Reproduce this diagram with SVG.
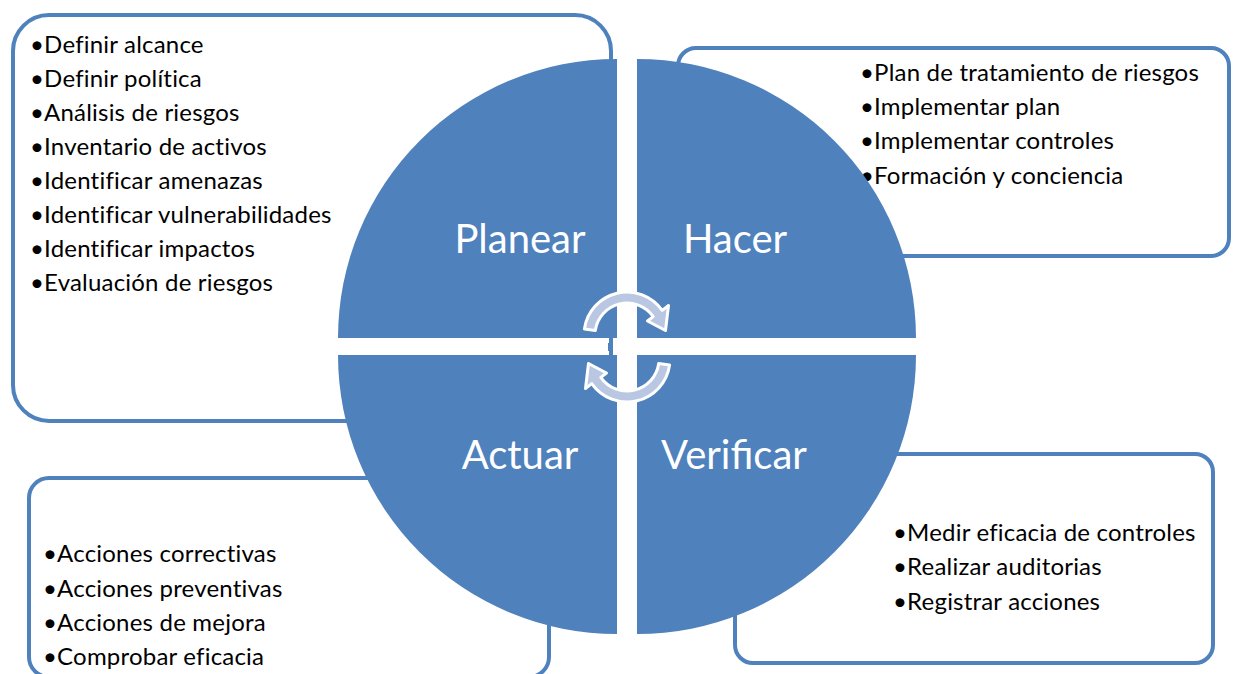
<svg xmlns="http://www.w3.org/2000/svg" width="1233" height="674" viewBox="0 0 1233 674">
<style>
.box{fill:#ffffff;stroke:#4F81BD;stroke-width:4}
.q{fill:#4F81BD}
.t{font-family:Lato,"Open Sans","Liberation Sans",sans-serif;font-size:24px;letter-spacing:0.2px;fill:#000000}
.big{font-family:Lato,"Open Sans","Liberation Sans",sans-serif;font-size:40px;fill:#ffffff;text-anchor:middle}
.arr{fill:#B9C7E2;stroke:#ffffff;stroke-width:3;stroke-linejoin:round}
</style>
<defs>
<path id="cyc" d="M-42.58,-5.99 A43,43 0 0 1 35.22,-24.66 L41.5,-29.5 L38.5,-4.5 L20.5,-14 L26.21,-18.35 A32,32 0 0 0 -31.69,-4.45 Z"/>
</defs>
<g id="box-planear">
<rect class="box" x="13" y="15" width="598" height="406" rx="36"/>
<text class="t" x="30" y="53">•Definir alcance</text>
<text class="t" x="30" y="87">•Definir política</text>
<text class="t" x="30" y="121">•Análisis de riesgos</text>
<text class="t" x="30" y="155">•Inventario de activos</text>
<text class="t" x="30" y="189">•Identificar amenazas</text>
<text class="t" x="30" y="223">•Identificar vulnerabilidades</text>
<text class="t" x="30" y="257">•Identificar impactos</text>
<text class="t" x="30" y="291">•Evaluación de riesgos</text>
</g>
<g id="box-hacer">
<rect class="box" x="678" y="48" width="551" height="208" rx="18"/>
<text class="t" x="860" y="81">•Plan de tratamiento de riesgos</text>
<text class="t" x="860" y="115">•Implementar plan</text>
<text class="t" x="860" y="149">•Implementar controles</text>
<text class="t" x="860" y="184">•Formación y conciencia</text>
</g>
<g id="box-verificar">
<rect class="box" x="735" y="454" width="478" height="209" rx="18"/>
<text class="t" x="893" y="541">•Medir eficacia de controles</text>
<text class="t" x="893" y="575">•Realizar auditorias</text>
<text class="t" x="893" y="610">•Registrar acciones</text>
</g>
<g id="box-actuar">
<rect class="box" x="29" y="478" width="520" height="199" rx="20"/>
<text class="t" x="43" y="562">•Acciones correctivas</text>
<text class="t" x="43" y="597">•Acciones preventivas</text>
<text class="t" x="43" y="631">•Acciones de mejora</text>
<text class="t" x="43" y="665">•Comprobar eficacia</text>
</g>
<g id="planear">
<path class="q" d="M617,338 L338,338 A279,279 0 0 1 617,59 Z"/>
<text class="big" x="520" y="253">Planear</text>
</g>
<g id="hacer">
<path class="q" d="M637,338 L637,59 A279,279 0 0 1 916,338 Z"/>
<text class="big" x="735" y="253">Hacer</text>
</g>
<g id="verificar">
<path class="q" d="M637,355 L916,355 A279,279 0 0 1 637,634 Z"/>
<text class="big" x="734" y="469">Verificar</text>
</g>
<g id="actuar">
<path class="q" d="M617,355 L617,634 A279,279 0 0 1 338,355 Z"/>
<rect class="q" x="608" y="343" width="5" height="8"/>
<text class="big" x="520" y="469">Actuar</text>
</g>
<g id="connectors">
<use href="#cyc" class="arr" transform="translate(627,335)"/>
<use href="#cyc" class="arr" transform="rotate(180 627 347) translate(627,335)"/>
</g>
</svg>
